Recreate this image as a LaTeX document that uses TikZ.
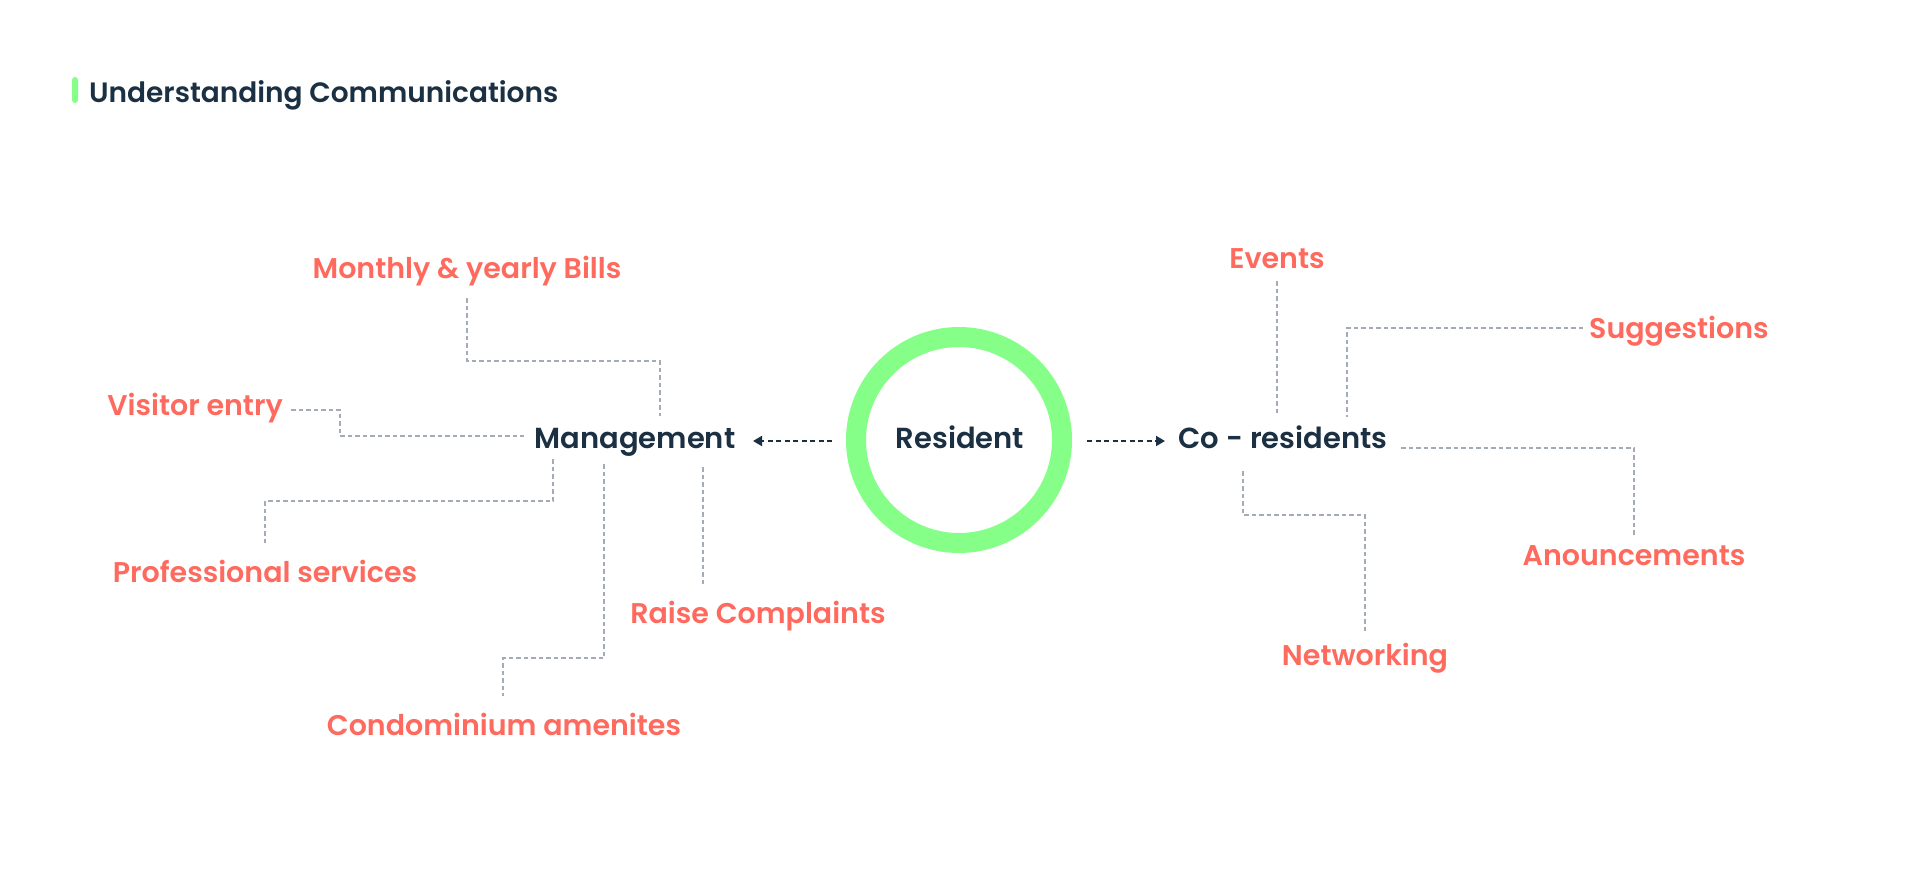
\documentclass[tikz,border=0pt]{standalone}
\usepackage{fontspec}
\setmainfont{Poppins}[BoldFont={Poppins SemiBold}]
\usetikzlibrary{arrows.meta}
\definecolor{navy}{HTML}{1B3042}
\definecolor{coral}{HTML}{FF6A5E}
\definecolor{mint}{HTML}{86FF88}
\definecolor{dashgrey}{HTML}{A3ACB6}
\tikzset{
  lbl/.style={text=coral, font=\fontsize{28.5}{33}\selectfont\bfseries, inner sep=0pt, anchor=base},
  hub/.style={text=navy, font=\fontsize{29}{33}\selectfont\bfseries, inner sep=0pt, anchor=base},
  conn/.style={draw=dashgrey, line width=1.5pt, dash pattern=on 4.5pt off 3pt},
  flow/.style={draw=navy, line width=1.8pt, dash pattern=on 5pt off 3.5pt, -{Triangle[length=9pt,width=10pt]}},
}
\begin{document}
\begin{tikzpicture}[x=1pt,y=-1pt]
\useasboundingbox[fill=white] (0,0) rectangle (1920,881);
% title
\fill[mint, rounded corners=3pt] (72,77) rectangle (78,103);
\node[text=navy, font=\fontsize{28}{32}\selectfont\bfseries, inner sep=0pt, anchor=base west] (title) at (89,102) {Understanding Communications};
% center
\node[draw=mint, line width=20pt, circle, minimum size=206pt, inner sep=0pt] (ring) at (959,440) {};
\node[hub] (res) at (960,448) {Resident};
\node[hub] (mgmt) at (635,448) {Management};
\node[hub] (cores) at (1283,448) {Co - residents};
\coordinate (ra) at (832,441);
\coordinate (rb) at (1087,441);
\coordinate (ma) at (753,441);
\coordinate (ca) at (1165,441);
\draw[flow] (ra) -- (ma);
\draw[flow] (rb) -- (ca);
% labels
\node[lbl] (bills) at (467,278) {Monthly \& yearly Bills};
\node[lbl, anchor=base east] (visit) at (283,415) {Visitor entry};
\node[lbl] (prof) at (265,582) {Professional services};
\node[lbl] (condo) at (504,735) {Condominium amenites};
\node[lbl] (compl) at (758,623) {Raise Complaints};
\node[lbl] (events) at (1277,268) {Events};
\node[lbl, anchor=base west] (sugg) at (1589,338) {Suggestions};
\node[lbl] (annc) at (1634,565) {Anouncements};
\node[lbl] (netw) at (1365,665) {Networking};
% connectors (management side)
\coordinate (b0) at (467,298);
\coordinate (b1) at (660,416);
\draw[conn] (b0) |- (660,361) -- (b1);
\coordinate (v0) at (291,410);
\coordinate (v1) at (524,436);
\draw[conn] (v0) -- (340,410) |- (v1);
\coordinate (p0) at (553,459);
\coordinate (p1) at (265,545);
\draw[conn] (p0) |- (265,501) -- (p1);
\coordinate (c0) at (604,464);
\coordinate (c1) at (503,696);
\draw[conn] (c0) |- (503,658) -- (c1);
\coordinate (r0) at (703,467);
\coordinate (r1) at (703,584);
\draw[conn] (r0) -- (r1);
% connectors (co-residents side)
\coordinate (e0) at (1277,281);
\coordinate (e1) at (1277,415);
\draw[conn] (e0) -- (e1);
\coordinate (s0) at (1583,328);
\coordinate (s1) at (1347,417);
\draw[conn] (s0) -| (s1);
\coordinate (a0) at (1401,448);
\coordinate (a1) at (1634,535);
\draw[conn] (a0) -| (a1);
\coordinate (n0) at (1243,471);
\coordinate (n1) at (1365,632);
\draw[conn] (n0) |- (1365,515) -- (n1);
\end{tikzpicture}
\end{document}
